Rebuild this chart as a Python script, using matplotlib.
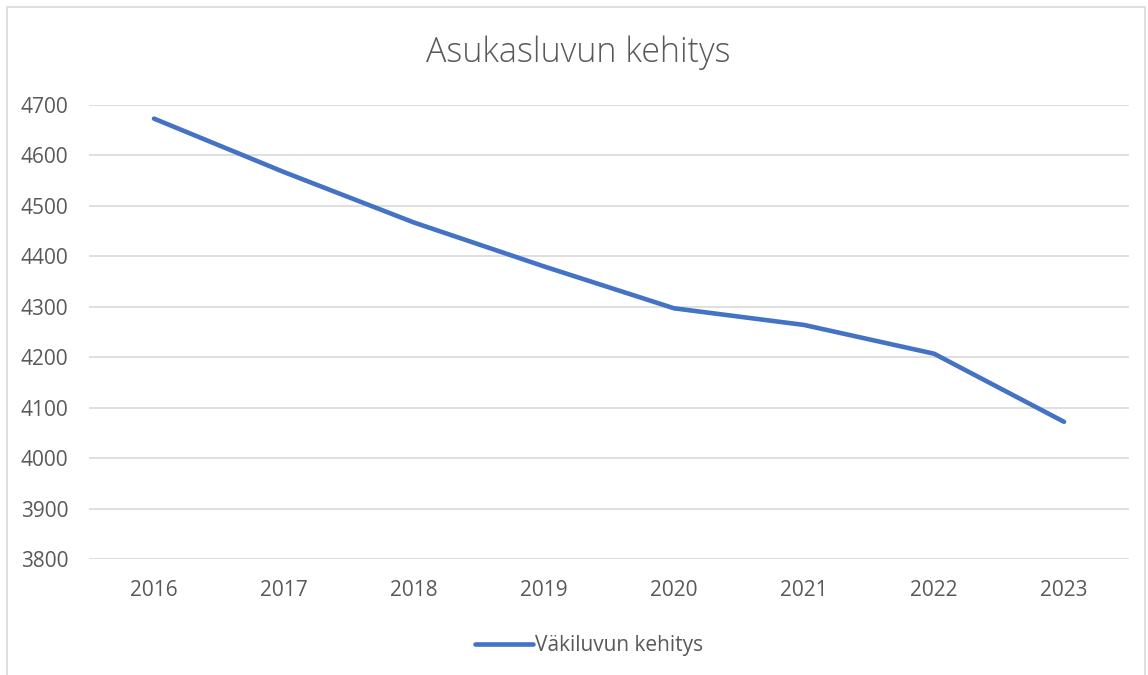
import matplotlib.pyplot as plt
from matplotlib.patches import Rectangle

plt.rcParams['font.family'] = ['Open Sans', 'DejaVu Sans']

years = ['2016', '2017', '2018', '2019', '2020', '2021', '2022', '2023']
population = [4673, 4567, 4467, 4380, 4297, 4264, 4207, 4072]
series_name = 'Väkiluvun kehitys'
title = 'Asukasluvun kehitys'

text_color = '#595959'
grid_color = '#D9D9D9'
line_color = '#4472C4'

fig = plt.figure(figsize=(11.48, 6.75), dpi=100)
ax = fig.add_axes([89 / 1148, 1 - 559 / 675, (1129 - 89) / 1148, (559 - 105) / 675])

ax.plot(range(len(years)), population, color=line_color, linewidth=3.3,
        solid_capstyle='round', solid_joinstyle='round', label=series_name)

ax.set_xlim(-0.5, len(years) - 0.5)
ax.set_ylim(3800, 4700)
ax.set_yticks(range(3800, 4701, 100))
ax.set_xticks(range(len(years)))
ax.set_xticklabels(years)
ax.grid(axis='y', color=grid_color, linewidth=1.2)
ax.set_axisbelow(True)
for s in ax.spines.values():
    s.set_visible(False)
ax.tick_params(length=0, labelsize=15, colors=text_color)
ax.tick_params(axis='x', pad=15)
ax.tick_params(axis='y', pad=15)

fig.text(0.5035, 1 - 53 / 675, title, ha='center', va='center', fontsize=24.5,
         color=text_color, fontweight='light')

leg = fig.legend(loc='center', bbox_to_anchor=(0.513, 1 - 646 / 675), frameon=False,
                 fontsize=15, handlelength=2.8, handletextpad=0.1, labelcolor=text_color)

# outer chart border
fig.patches.append(Rectangle((7 / 1148, -0.01), 1138 / 1148, 1 - 7 / 675 + 0.01,
                             transform=fig.transFigure, fill=False,
                             edgecolor='#D9D9D9', linewidth=1.2))

plt.savefig('out.png', dpi=100)
